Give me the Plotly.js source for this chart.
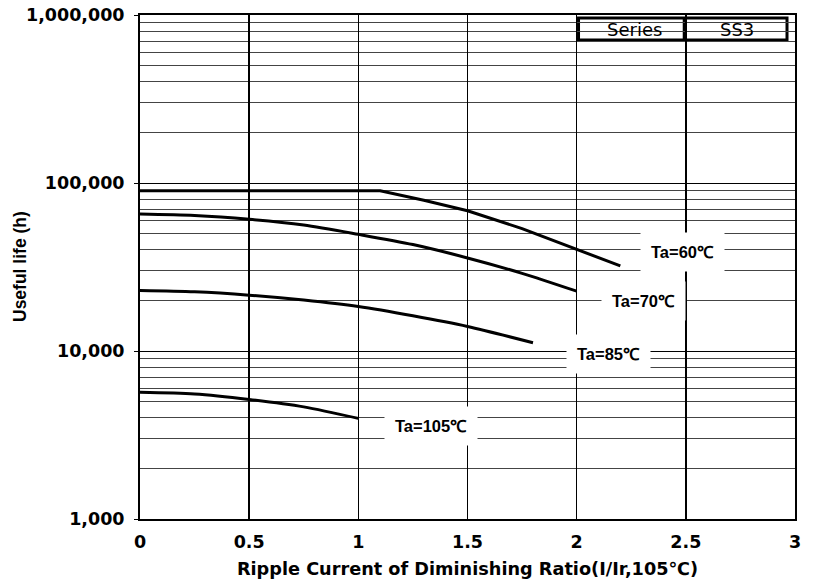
<!DOCTYPE html>
<html>
<head>
<meta charset="utf-8">
<script src="https://cdn.plot.ly/plotly-3.0.1.min.js"></script>
<style>html,body{margin:0;padding:0;background:#fff;}#chart{width:813px;height:585px;}</style>
</head>
<body>
<div id="chart"></div>
<script>
// Ripple current ratio (x) vs useful life in hours (y)
var x60 = [0, 0.5, 1, 1.1, 1.3, 1.5, 1.75, 2, 2.2];
var y60 = [90000, 90000, 90000, 90000, 79000, 68400, 53500, 40500, 32100];
var x70 = [0, 0.25, 0.5, 0.75, 1, 1.25, 1.5, 1.75, 2];
var y70 = [65300, 64000, 60800, 56200, 49500, 43000, 35800, 29000, 22700];
var x85 = [0, 0.25, 0.5, 0.75, 1, 1.25, 1.5, 1.8];
var y85 = [22900, 22500, 21500, 20100, 18400, 16200, 14000, 11200];
var x105 = [0, 0.25, 0.5, 0.75, 1];
var y105 = [5680, 5550, 5150, 4650, 3970];

var labelText = ['Ta=60℃', 'Ta=70℃', 'Ta=85℃', 'Ta=105℃'];
var labelX = [2.483, 2.304, 2.148, 1.331];
var labelY = [39000, 19900, 9660, 3560];

var xTicks = [0, 0.5, 1, 1.5, 2, 2.5, 3];
var xTickText = ['0', '0.5', '1', '1.5', '2', '2.5', '3'];
var yTicks = [1000, 10000, 100000, 1000000];
var yTickText = ['1,000', '10,000', '100,000', '1,000,000'];

function curve(x, y, shape) {
  return {x: x, y: y, type: 'scatter', mode: 'lines', hoverinfo: 'skip',
    line: {color: '#000', width: 3, shape: shape, smoothing: 0.8}};
}
var traces = [
  curve(x60, y60, 'linear'),
  curve(x70, y70, 'spline'),
  curve(x85, y85, 'spline'),
  curve(x105, y105, 'spline')
];

var annotations = labelText.map(function(t, i) {
  return {x: labelX[i], y: Math.log10(labelY[i]), xref: 'x', yref: 'y', text: t,
    xanchor: 'center', yanchor: 'middle',
    showarrow: false, bgcolor: '#fff', borderpad: 10,
    font: {family: 'Liberation Sans, Arial, sans-serif', size: 16.5, color: '#000', weight: 'bold'}};
});
annotations.push({x: 0.7553, y: 0.9722, xref: 'paper', yref: 'paper', text: 'Series', showarrow: false,
  xanchor: 'center', yanchor: 'middle',
  font: {family: 'DejaVu Sans, sans-serif', size: 18, color: '#000'}});
annotations.push({x: 0.9107, y: 0.9722, xref: 'paper', yref: 'paper', text: 'SS3', showarrow: false,
  xanchor: 'center', yanchor: 'middle',
  font: {family: 'DejaVu Sans, sans-serif', size: 18, color: '#000'}});
// y-axis title
annotations.push({x: -0.1832, y: 0.5, xref: 'paper', yref: 'paper', text: 'Useful life (h)', showarrow: false,
  xanchor: 'center', yanchor: 'middle', textangle: -90,
  font: {family: 'Liberation Sans, Arial, sans-serif', size: 17.5, color: '#000', weight: 'bold'}});

var shapes = [
  {type: 'rect', xref: 'paper', yref: 'paper', x0: 0.6695, x1: 0.9878, y0: 0.9505, y1: 0.994,
    fillcolor: '#fff', line: {color: '#000', width: 3}, layer: 'between'},
  {type: 'line', xref: 'paper', yref: 'paper', x0: 0.8305, x1: 0.8305, y0: 0.9505, y1: 0.994,
    line: {color: '#000', width: 2.5}, layer: 'between'}
];

var tickFont = {family: 'DejaVu Sans, sans-serif', size: 17.5, color: '#000', weight: 'bold'};

var layout = {
  width: 813, height: 585,
  margin: {l: 140, r: 18, t: 15, b: 66},
  paper_bgcolor: '#fff', plot_bgcolor: '#fff',
  showlegend: false,
  xaxis: {
    range: [0, 3], tickvals: xTicks, ticktext: xTickText,
    showgrid: true, gridcolor: '#000', gridwidth: 1.5,
    zeroline: false, showline: true, linecolor: '#000', linewidth: 2, mirror: true,
    ticks: '', tickfont: tickFont, ticklabelstandoff: 6,
    title: {text: 'Ripple Current of Diminishing Ratio(I/Ir,105℃)', standoff: 12,
      font: {family: 'DejaVu Sans, sans-serif', size: 17.7, color: '#000', weight: 'bold'}}
  },
  yaxis: {
    type: 'log', range: [3, 6], tickvals: yTicks, ticktext: yTickText,
    showgrid: true, gridcolor: '#000', gridwidth: 1,
    minor: {dtick: 'D1', showgrid: true, gridcolor: '#444', gridwidth: 1, ticks: ''},
    zeroline: false, showline: true, linecolor: '#000', linewidth: 2, mirror: true,
    ticks: 'outside', ticklen: 4, tickcolor: '#000', tickwidth: 1,
    tickfont: tickFont, ticklabelstandoff: 6
  },
  annotations: annotations,
  shapes: shapes
};

Plotly.newPlot('chart', traces, layout, {staticPlot: true, displayModeBar: false});
</script>
</body>
</html>
